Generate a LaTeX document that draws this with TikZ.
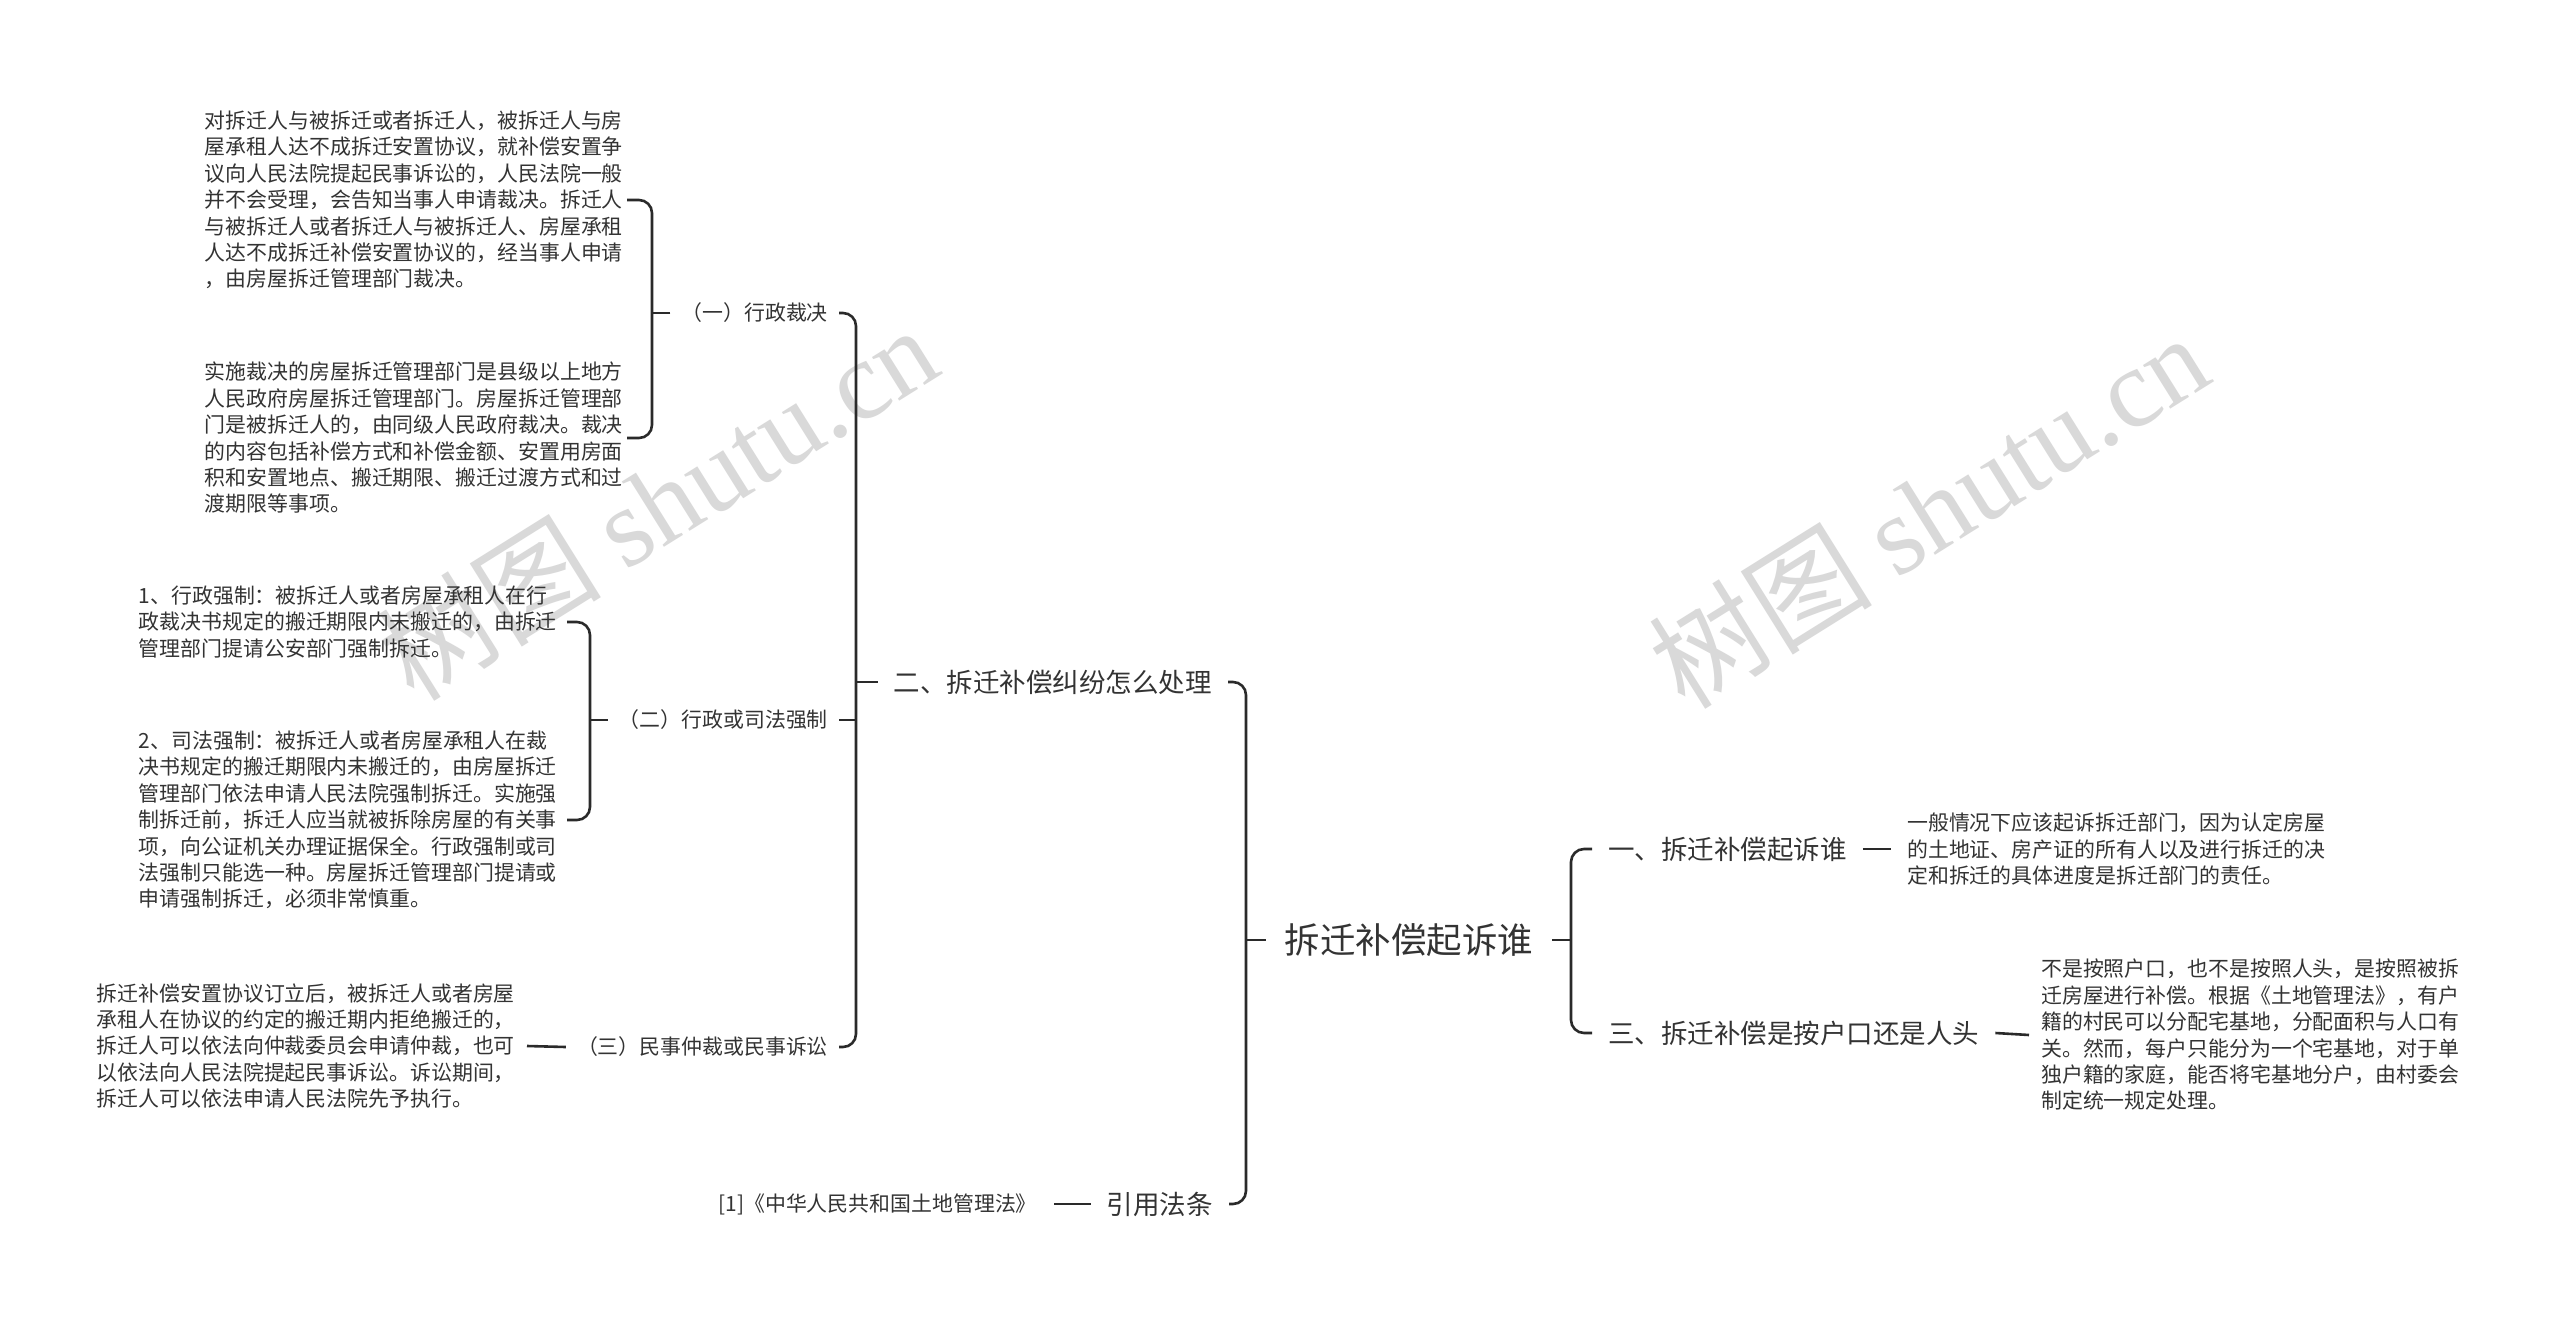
\documentclass[tikz,border=0pt]{standalone}
\usepackage{fontspec}
\setmainfont{Noto Sans CJK SC}
\newfontfamily\wmserif{Liberation Serif}
\definecolor{tc}{HTML}{333333}
\definecolor{lc}{HTML}{2A2A2A}
\definecolor{wmc}{HTML}{D9D9D9}
\begin{document}
\begin{tikzpicture}[x=1pt,y=-1pt,
  txt/.style={text=tc, inner ysep=2pt, align=left},
  lvl0/.style={txt, font=\fontsize{35.5}{42}\selectfont, inner xsep=19pt},
  lvl1/.style={txt, font=\fontsize{26.5}{32}\selectfont, inner xsep=16pt},
  lvl2/.style={txt, font=\fontsize{20.9}{26.5}\selectfont, inner xsep=11pt},
  lvl3/.style={txt, font=\fontsize{20.9}{26.4}\selectfont, inner xsep=12pt},
  conn/.style={draw=lc, line width=2.6pt, rounded corners=13pt},
  wm/.style={text=wmc, font=\fontsize{112}{120}\selectfont, inner sep=0pt}]
\fill[white] (0,0) rectangle (2560,1322);
\useasboundingbox (0,0) rectangle (2560,1322);
% watermarks
\node[wm, rotate=32] (wm1) at (657,502) {树图 {\wmserif shutu.cn}};
\node[wm, rotate=32] (wm2) at (1928,510) {树图 {\wmserif shutu.cn}};
% bus coordinates
\coordinate (busL) at (1246,0);
\coordinate (busR) at (1571,0);
\coordinate (bus2) at (856,0);
\coordinate (busA) at (652,0);
\coordinate (busB) at (590,0);
% root
\node[lvl0] (root) at (1409,940) {拆迁补偿起诉谁};
% level 1
\node[lvl1, anchor=east] (b2) at (1228,682) {二、拆迁补偿纠纷怎么处理};
\node[lvl1, anchor=east] (bcite) at (1229,1204) {引用法条};
\node[lvl1, anchor=west] (r1) at (1592,849) {一、拆迁补偿起诉谁};
\node[lvl1, anchor=west] (r3) at (1592,1033) {三、拆迁补偿是按户口还是人头};
% level 2
\node[lvl2, anchor=east] (l1) at (839,313) {（一）行政裁决};
\node[lvl2, anchor=east] (l2) at (839,720) {（二）行政或司法强制};
\node[lvl2, anchor=east] (l3) at (839,1047) {（三）民事仲裁或民事诉讼};
% level 3
\node[lvl3, anchor=east, inner xsep=4pt] (t1) at (627,200) {对拆迁人与被拆迁或者拆迁人，被拆迁人与房\\%
屋承租人达不成拆迁安置协议，就补偿安置争\\%
议向人民法院提起民事诉讼的，人民法院一般\\%
并不会受理，会告知当事人申请裁决。拆迁人\\%
与被拆迁人或者拆迁人与被拆迁人、房屋承租\\%
人达不成拆迁补偿安置协议的，经当事人申请\\%
，由房屋拆迁管理部门裁决。};
\node[lvl3, anchor=east, inner xsep=4pt] (t2) at (627,438) {实施裁决的房屋拆迁管理部门是县级以上地方\\%
人民政府房屋拆迁管理部门。房屋拆迁管理部\\%
门是被拆迁人的，由同级人民政府裁决。裁决\\%
的内容包括补偿方式和补偿金额、安置用房面\\%
积和安置地点、搬迁期限、搬迁过渡方式和过\\%
渡期限等事项。};
\node[lvl3, anchor=east, inner xsep=10pt] (ta) at (567,622) {1、行政强制：被拆迁人或者房屋承租人在行\\%
政裁决书规定的搬迁期限内未搬迁的，由拆迁\\%
管理部门提请公安部门强制拆迁。};
\node[lvl3, anchor=east, inner xsep=10pt] (tb) at (567,820) {2、司法强制：被拆迁人或者房屋承租人在裁\\%
决书规定的搬迁期限内未搬迁的，由房屋拆迁\\%
管理部门依法申请人民法院强制拆迁。实施强\\%
制拆迁前，拆迁人应当就被拆除房屋的有关事\\%
项，向公证机关办理证据保全。行政强制或司\\%
法强制只能选一种。房屋拆迁管理部门提请或\\%
申请强制拆迁，必须非常慎重。};
\node[lvl3, anchor=east] (tc) at (527,1046) {拆迁补偿安置协议订立后，被拆迁人或者房屋\\%
承租人在协议的约定的搬迁期内拒绝搬迁的，\\%
拆迁人可以依法向仲裁委员会申请仲裁，也可\\%
以依法向人民法院提起民事诉讼。诉讼期间，\\%
拆迁人可以依法申请人民法院先予执行。};
\node[lvl3, anchor=east, inner xsep=17pt] (ref) at (1054,1204) {[1]《中华人民共和国土地管理法》};
\node[lvl3, anchor=west, inner xsep=16pt] (rc1) at (1891,849) {一般情况下应该起诉拆迁部门，因为认定房屋\\%
的土地证、房产证的所有人以及进行拆迁的决\\%
定和拆迁的具体进度是拆迁部门的责任。};
\node[lvl3, anchor=west] (rc3) at (2029,1035) {不是按照户口，也不是按照人头，是按照被拆\\%
迁房屋进行补偿。根据《土地管理法》，有户\\%
籍的村民可以分配宅基地，分配面积与人口有\\%
关。然而，每户只能分为一个宅基地，对于单\\%
独户籍的家庭，能否将宅基地分户，由村委会\\%
制定统一规定处理。};
% connectors
\draw[conn] (root.west) -- (root.west -| busL);
\draw[conn] (b2.east) -- (b2.east -| busL) -- (bcite.east -| busL) -- (bcite.east);
\draw[conn] (root.east) -- (root.east -| busR);
\draw[conn] (r1.west) -- (r1.west -| busR) -- (r3.west -| busR) -- (r3.west);
\draw[conn] (b2.west) -- (b2.west -| bus2);
\draw[conn] (l1.east) -- (l1.east -| bus2) -- (l3.east -| bus2) -- (l3.east);
\draw[conn] (l2.east) -- (l2.east -| bus2);
\draw[conn] (l1.west) -- (l1.west -| busA);
\draw[conn] (t1.east) -- (t1.east -| busA) -- (t2.east -| busA) -- (t2.east);
\draw[conn] (l2.west) -- (l2.west -| busB);
\draw[conn] (ta.east) -- (ta.east -| busB) -- (tb.east -| busB) -- (tb.east);
\draw[conn] (l3.west) -- (tc.east);
\draw[conn] (bcite.west) -- (ref.east);
\draw[conn] (r1.east) -- (rc1.west);
\draw[conn] (r3.east) -- (rc3.west);
\end{tikzpicture}
\end{document}
